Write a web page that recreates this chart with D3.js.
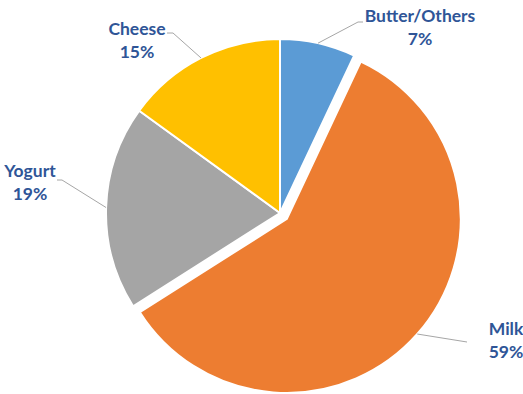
<!DOCTYPE html>
<html>
<head>
<meta charset="utf-8">
<script src="https://cdn.jsdelivr.net/npm/d3@7"></script>
<style>
  body { margin: 0; background: #fff; }
  svg { display: block; }
</style>
</head>
<body>
<script>
// Data
var categories = ["Butter/Others", "Milk", "Yogurt", "Cheese"];
var values = [7, 59, 19, 15];
var colors = ["#5B9BD5", "#ED7D31", "#A5A5A5", "#FFC000"];
var exploded = [0, 9, 0, 0];

// Label layout (text centre, first baseline, leader elbow)
var labelX = [420, 506, 30, 137];
var labelY = [22, 335, 177, 35];
var elbowX = [358, 467, 62, 173];
var elbowY = [22, 342, 180, 33];
var endX = [363, 467, 57, 167];

var w = 523, h = 394;
var cx = 280, cy = 213, r = 174;

var svg = d3.select("body").append("svg")
    .attr("width", w)
    .attr("height", h);

var data = categories.map(function(c, i) {
    return {name: c, value: values[i], i: i};
});

var pie = d3.pie().sort(null).value(function(d) { return d.value; });
var arc = d3.arc().innerRadius(0).outerRadius(r);
var arcs = pie(data);

var g = svg.append("g").attr("transform", "translate(" + cx + "," + cy + ")");

// offset of a slice along its mid angle
function shift(d) {
    var a = (d.startAngle + d.endAngle) / 2;
    var o = exploded[d.index];
    return [Math.sin(a) * o, -Math.cos(a) * o];
}

g.selectAll("path")
    .data(arcs)
    .enter()
    .append("path")
    .attr("d", arc)
    .attr("transform", function(d) {
        var s = shift(d);
        return "translate(" + s[0] + "," + s[1] + ")";
    })
    .attr("fill", function(d, i) { return colors[i]; })
    .attr("stroke", "#fff")
    .attr("stroke-width", 2)
    .attr("stroke-linejoin", "round");

// leader lines
g.selectAll("polyline")
    .data(arcs)
    .enter()
    .append("polyline")
    .attr("points", function(d, i) {
        var a = (d.startAngle + d.endAngle) / 2;
        var s = shift(d);
        var x0 = Math.sin(a) * r + s[0];
        var y0 = -Math.cos(a) * r + s[1];
        return [[x0, y0], [elbowX[i] - cx, elbowY[i] - cy], [endX[i] - cx, elbowY[i] - cy]].join(" ");
    })
    .attr("fill", "none")
    .attr("stroke", "#A6A6A6")
    .attr("stroke-width", 1);

// labels
var labels = svg.selectAll("text.lbl")
    .data(arcs)
    .enter()
    .append("text")
    .attr("class", "lbl")
    .attr("x", function(d, i) { return labelX[i]; })
    .attr("y", function(d, i) { return labelY[i]; })
    .attr("text-anchor", "middle")
    .style("font-family", "Lato, 'Open Sans', sans-serif")
    .style("font-weight", "bold")
    .style("font-size", "17.5px")
    .style("fill", "#2F5597");

labels.append("tspan")
    .attr("x", function(d, i) { return labelX[i]; })
    .text(function(d) { return d.data.name; });

labels.append("tspan")
    .attr("x", function(d, i) { return labelX[i]; })
    .attr("dy", 23)
    .text(function(d) { return d.data.value + "%"; });
</script>
</body>
</html>
